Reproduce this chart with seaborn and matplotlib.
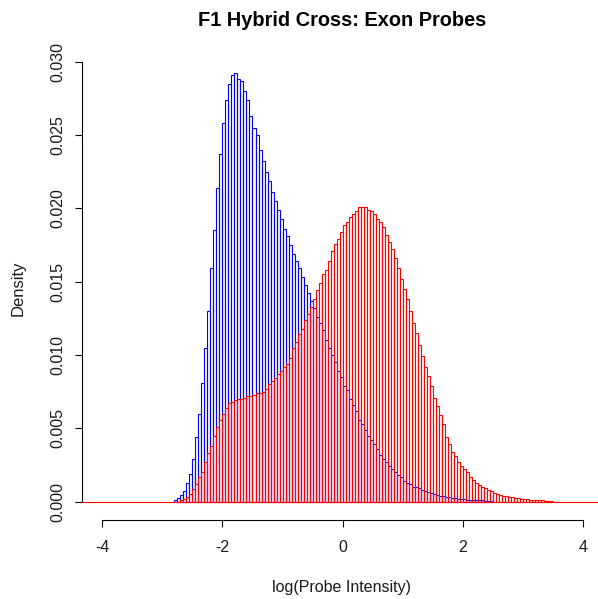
import numpy as np
import pandas as pd
import matplotlib
matplotlib.use("Agg")
import matplotlib.pyplot as plt
from matplotlib.ticker import FormatStrFormatter
import seaborn as sns

# Histogram bins: left edge of the first bin and common bin width
bin_start = -2.8
bin_width = 0.05

# Per-bin proportions, parental probes (blue)
parent_density = [
    0.0001, 0.00025, 0.00046, 0.00075, 0.00125, 0.0019, 0.0029, 0.0044, 0.0060, 0.0081,
    0.0105, 0.0130, 0.0159, 0.0185, 0.0214, 0.0237, 0.0258, 0.0274, 0.0285, 0.0291,
    0.0292, 0.0288, 0.0287, 0.0280, 0.0274, 0.0263, 0.0255, 0.0250, 0.0240, 0.0232,
    0.0225, 0.0219, 0.0211, 0.0205, 0.0199, 0.0193, 0.0186, 0.0181, 0.0175, 0.0169,
    0.0164, 0.0159, 0.0153, 0.0148, 0.0142, 0.0137, 0.0132, 0.0126, 0.0122, 0.0117,
    0.0110, 0.0105, 0.0100, 0.0095, 0.0089, 0.0085, 0.0079, 0.0076, 0.0070, 0.0066,
    0.0062, 0.0056, 0.0053, 0.0049, 0.0045, 0.0042, 0.0039, 0.0036, 0.0032, 0.0029,
    0.0027, 0.0024, 0.0022, 0.0020, 0.0018, 0.0017, 0.0014, 0.0013, 0.0012, 0.0010,
    0.0010, 0.0009, 0.0008, 0.0007, 0.00064, 0.00057, 0.00052, 0.00044, 0.0004, 0.00036,
    0.00033, 0.0003, 0.00026, 0.00024, 0.0002, 0.00018, 0.00016, 0.00014, 0.00012, 0.00011,
    0.0001, 0.00009, 0.00008, 0.00007, 0.00005, 0.00004,
]

# Per-bin proportions, F1 hybrid probes (red)
hybrid_density = [
    0.0, 0.0, 0.0001, 0.00018, 0.00034, 0.00052, 0.00085, 0.0012, 0.0017, 0.0020,
    0.0027, 0.0033, 0.0038, 0.0045, 0.0051, 0.0056, 0.0060, 0.0064, 0.0067, 0.0068,
    0.0069, 0.0070, 0.0070, 0.0071, 0.0072, 0.0072, 0.0073, 0.0074, 0.0074, 0.0075,
    0.0077, 0.0080, 0.0082, 0.0084, 0.0087, 0.0089, 0.0092, 0.0094, 0.0098, 0.0105,
    0.0109, 0.0114, 0.0118, 0.0124, 0.0128, 0.0133, 0.0138, 0.0144, 0.0149, 0.0155,
    0.0158, 0.0164, 0.0171, 0.0176, 0.0179, 0.0184, 0.0189, 0.0191, 0.0194, 0.0196,
    0.0198, 0.0201, 0.0201, 0.0201, 0.0199, 0.0198, 0.0196, 0.0193, 0.0191, 0.0187,
    0.0182, 0.0177, 0.0172, 0.0166, 0.0159, 0.0152, 0.0145, 0.0138, 0.0130, 0.0122,
    0.0115, 0.0107, 0.0099, 0.0092, 0.0086, 0.0079, 0.0071, 0.0065, 0.0059, 0.0053,
    0.0044, 0.0039, 0.0034, 0.0031, 0.0027, 0.0024, 0.0022, 0.0020, 0.0017, 0.0015,
    0.0013, 0.00114, 0.00102, 0.0009, 0.0008, 0.0007, 0.0006, 0.00053, 0.00047, 0.00042,
    0.00037, 0.00033, 0.0003, 0.00026, 0.00023, 0.0002, 0.00018, 0.00016, 0.00014, 0.00012,
    0.0001, 0.00009, 0.00008, 0.00007, 0.00006, 0.00005,
]

x_ticks = [-4, -2, 0, 2, 4]
y_ticks = [0.000, 0.005, 0.010, 0.015, 0.020, 0.025, 0.030]

title = "F1 Hybrid Cross: Exon Probes"
x_label = "log(Probe Intensity)"
y_label = "Density"


def binned(values):
    edges = [round(bin_start + bin_width * i, 4) for i in range(len(values) + 1)]
    centers = [e + bin_width / 2 for e in edges[:-1]]
    return pd.DataFrame({"x": centers, "w": values}), edges


sns.set_style("white")
plt.rcParams["font.family"] = ["Liberation Sans", "DejaVu Sans"]
plt.rcParams["axes.unicode_minus"] = False

W, H = 598, 599
fig = plt.figure(figsize=(W / 100, H / 100), dpi=100)
ax = fig.add_axes([82 / W, (H - 520) / H, 1 - 82 / W, (520 - 56) / H])

for values, colour in [(parent_density, "#0000FF"), (hybrid_density, "#FF0000")]:
    df, edges = binned(values)
    sns.histplot(data=df, x="x", weights="w", bins=edges, stat="count",
                 fill=False, color=colour, alpha=1, linewidth=0.8, ax=ax)

ax.axhline(0, color="#FF0000", linewidth=0.8, zorder=3)

ax.set_xlim(-4.34, 4.255)
ax.set_ylim(-0.00125, 0.03039)

for side in ["top", "right"]:
    ax.spines[side].set_visible(False)
for side in ["left", "bottom"]:
    ax.spines[side].set_color("black")
    ax.spines[side].set_linewidth(0.8)
ax.spines["left"].set_bounds(y_ticks[0], y_ticks[-1])
ax.spines["bottom"].set_bounds(x_ticks[0], x_ticks[-1])

ax.set_xticks(x_ticks)
ax.set_yticks(y_ticks)
ax.yaxis.set_major_formatter(FormatStrFormatter("%.3f"))
ax.tick_params(axis="both", direction="out", length=5.2, width=0.8,
               color="black", labelcolor="#1a1a1a", bottom=True, left=True)
ax.tick_params(axis="x", labelsize=11.5, pad=9)
ax.tick_params(axis="y", labelsize=11.5, labelrotation=90, pad=7)
for lab in ax.get_yticklabels():
    lab.set_verticalalignment("center")

ax.set_xlabel(x_label, fontsize=11.5, color="#1a1a1a")
ax.set_ylabel(y_label, fontsize=12, color="#1a1a1a")
ax.xaxis.set_label_coords((342 - 82) / 516, -(580 - 520) / 464)
ax.yaxis.set_label_coords((26 - 82) / 516, (520 - 288) / 464)

fig.text(341.7 / W, 1 - 26.5 / H, title, ha="center", va="baseline",
         fontsize=14.4, fontweight="bold", color="black")

fig.savefig("out.png", dpi=100)
